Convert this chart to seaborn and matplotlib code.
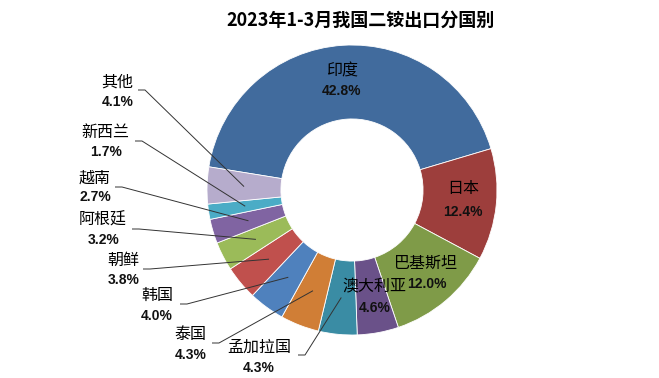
import numpy as np
import matplotlib
matplotlib.use("Agg")
import matplotlib.pyplot as plt
import seaborn as sns

# ---- data ----
countries = ["印度", "日本", "巴基斯坦", "澳大利亚", "孟加拉国", "泰国",
             "韩国", "朝鲜", "阿根廷", "越南", "新西兰", "其他"]
shares = [42.8, 12.4, 12.0, 4.6, 4.3, 4.3, 4.0, 3.8, 3.2, 2.7, 1.7, 4.1]
pct_labels = ["42.8%", "12.4%", "12.0%", "4.6%", "4.3%", "4.3%",
              "4.0%", "3.8%", "3.2%", "2.7%", "1.7%", "4.1%"]
title = "2023年1-3月我国二铵出口分国别"

colors = ["#416B9D", "#9D3E3C", "#7F9B48", "#6A5189", "#3A8CA4", "#D07E36",
          "#4F81BD", "#C0504D", "#9BBB59", "#8064A2", "#4BACC6", "#B6ACCC"]

# ---- layout (pixel positions: name centre, pct centre, leader start or None) ----
W, H = 659, 378
label_layout = {
    "印度":   ((342, 71), (342, 91), None),
    "日本":   ((463, 189), (463, 212), None),
    "巴基斯坦": ((426, 263), (427, 284), None),
    "澳大利亚": ((374, 287), (375, 308), None),
    "孟加拉国": ((259, 347), (259, 368), (298, 355)),
    "泰国":   ((190, 335), (191, 355), (212, 343)),
    "韩国":   ((157, 295), (157, 316), (180, 304)),
    "朝鲜":   ((123, 260), (124, 280), (143, 269)),
    "阿根廷":  ((103, 220), (104, 240), (132, 229)),
    "越南":   ((95, 178), (95, 197), (115, 187)),
    "新西兰":  ((105, 132), (106, 152), (135, 141)),
    "其他":   ((117, 82), (118, 102), (138, 90)),
}

sns.set_theme(style="white")
plt.rcParams["font.family"] = ["Noto Sans CJK SC", "DejaVu Sans"]

fig = plt.figure(figsize=(W / 100, H / 100), dpi=100)
fig.patch.set_facecolor("white")
ax = fig.add_axes([0, 0, 1, 1])

def py(y):
    return H - y

R = 145
cx, cy = 352, py(190)
wedges, _ = ax.pie(shares, colors=colors, startangle=170.8, counterclock=False,
                   radius=R, center=(cx, cy),
                   wedgeprops=dict(width=R * 0.51, edgecolor="white", linewidth=0.6))
ax.set_xlim(0, W)
ax.set_ylim(0, H)
ax.set_aspect("auto")
ax.axis("off")

for w, name, pct in zip(wedges, countries, pct_labels):
    (nx, ny), (px_, py_), start = label_layout[name]
    ax.text(nx, py(ny), name, ha="center", va="center", fontsize=11.5,
            family=["Noto Sans CJK SC", "DejaVu Sans"], fontweight="medium",
            color="black")
    ax.text(px_, py(py_), pct, ha="center", va="center", fontsize=10,
            family=["Liberation Sans", "DejaVu Sans"], fontweight="bold",
            color="#111111")
    if start is not None:
        mid = np.deg2rad((w.theta1 + w.theta2) / 2)
        ex = cx + 0.745 * R * np.cos(mid)
        ey = cy + 0.745 * R * np.sin(mid)
        sx, sy = start
        ax.plot([sx, sx + 7, ex], [py(sy), py(sy), ey], color="#333333",
                lw=0.7, solid_capstyle="butt", zorder=5)

ax.text(361, py(20), title, ha="center", va="center", fontsize=13,
        fontweight="bold", family=["Noto Sans CJK SC", "DejaVu Sans"],
        color="black")

fig.savefig("out.png", dpi=100, facecolor="white")
